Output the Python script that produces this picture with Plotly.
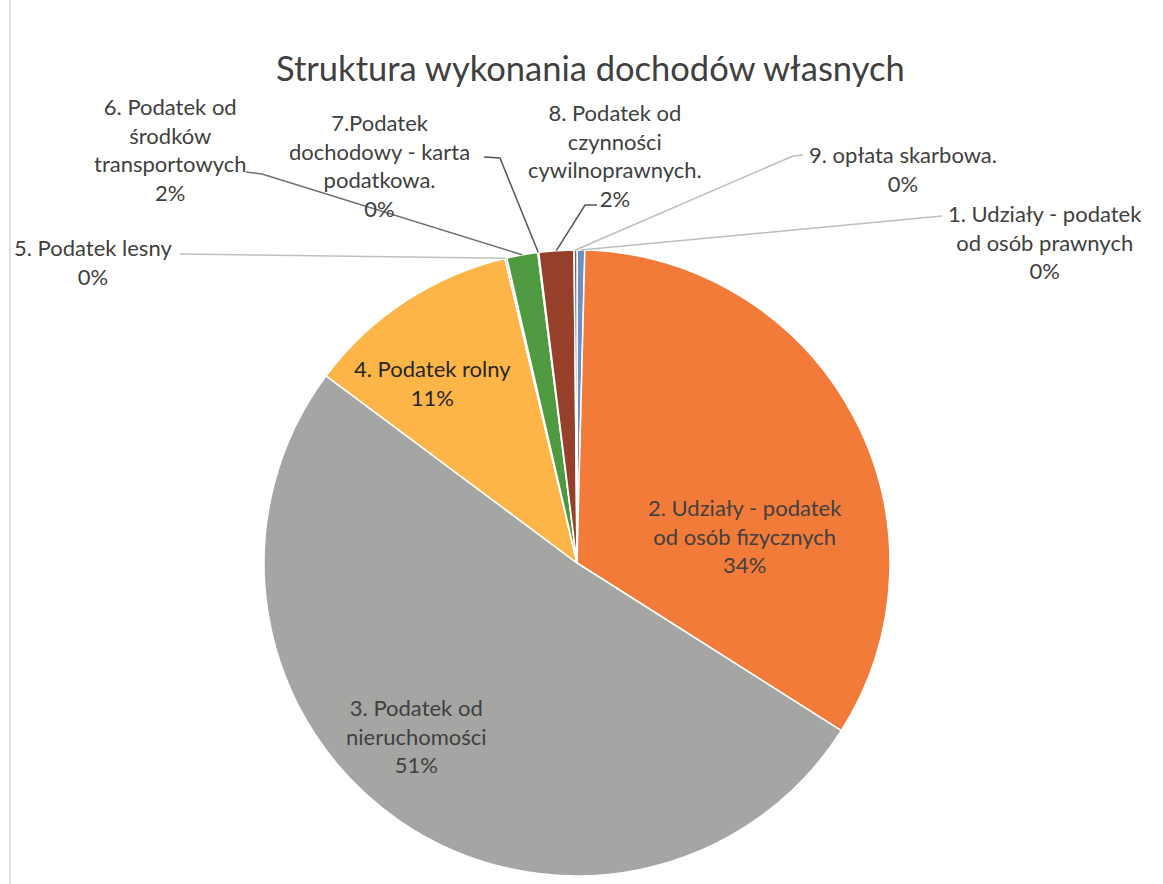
import plotly.graph_objects as go
import math

# ---- data ----
labels = [
    "1. Udziały - podatek od osób prawnych",
    "2. Udziały - podatek od osób fizycznych",
    "3. Podatek od nieruchomości",
    "4. Podatek rolny",
    "5. Podatek lesny",
    "6. Podatek od środków transportowych",
    "7.Podatek dochodowy - karta podatkowa.",
    "8. Podatek od czynności cywilnoprawnych.",
    "9. opłata skarbowa.",
]
shares = [0.4, 33.6, 51.2, 11.1, 0.1, 1.6, 0.05, 1.8, 0.15]
label_lines = [
    ["1. Udziały - podatek", "od osób prawnych"],
    ["2. Udziały - podatek", "od osób fizycznych"],
    ["3. Podatek od", "nieruchomości"],
    ["4. Podatek rolny"],
    ["5. Podatek lesny"],
    ["6. Podatek od", "środków", "transportowych"],
    ["7.Podatek", "dochodowy - karta", "podatkowa."],
    ["8. Podatek od", "czynności", "cywilnoprawnych."],
    ["9. opłata skarbowa."],
]
colors = ["#6f8fc4", "#f37b3a", "#a5a5a3", "#fdb547", "#7aa6d6",
          "#4f9a40", "#2f4a78", "#963f2b", "#6a6a6a"]
title = "Struktura wykonania dochodów własnych"

W, H = 1163, 884
CX, CY, R = 577, 563, 313
FONT = "Lato"
TXT = "#404040"

def px(x):
    return x / W

def py(y):
    return 1 - y / H

total = sum(shares)
pct = [round(100 * s / total) for s in shares]
texts = ["<br>".join(label_lines[i] + [f"{pct[i]}%"]) for i in range(len(shares))]

fig = go.Figure()
fig.add_trace(go.Pie(
    labels=labels, values=shares, sort=False, direction="clockwise", rotation=0,
    marker=dict(colors=colors, line=dict(color="white", width=1.5)),
    textinfo="none", hoverinfo="label+percent", showlegend=False,
    domain=dict(x=[px(CX - R), px(CX + R)], y=[py(CY + R), py(CY - R)]),
))

# slice edge points (from data)
cum = 0
edge = []
for s in shares:
    mid = (cum + s / 2) / total * 2 * math.pi
    edge.append((CX + R * math.sin(mid), CY - R * math.cos(mid)))
    cum += s

# label placement (pixel centres) and leader-line start points
label_pos = {
    0: (1045, 242), 1: (745, 536), 2: (416, 736), 3: (432, 383), 4: (93, 262),
    5: (170, 149), 6: (379, 165), 7: (615, 155), 8: (903, 169),
}
leader_start = {
    0: [(942, 216)],
    4: [(180, 254)],
    5: [(246, 172), (262, 174)],
    6: [(484, 157), (500, 158)],
    7: [(597, 205), (585, 205)],
    8: [(803, 155), (793, 156)],
}
line_col = {0: "#bdbdbd", 4: "#c0c0c0", 5: "#6e6e6e", 6: "#555555", 7: "#555555", 8: "#bdbdbd"}

annotations = []
for i, (x, y) in label_pos.items():
    annotations.append(dict(
        x=px(x), y=py(y), xref="paper", yref="paper", text=texts[i], showarrow=False,
        font=dict(family=FONT, size=22, color="#262626" if i == 3 else TXT),
        align="center", xanchor="center", yanchor="middle",
    ))
annotations.append(dict(
    x=px(591), y=py(68), xref="paper", yref="paper", text=title, showarrow=False,
    font=dict(family=FONT, size=34.5, color="#404040"), xanchor="center", yanchor="middle",
))

shapes = []
for i, pts in leader_start.items():
    allpts = pts + [edge[i]]
    path = "M " + " L ".join(f"{px(a):.5f},{py(b):.5f}" for a, b in allpts)
    shapes.append(dict(type="path", path=path, xref="paper", yref="paper",
                       line=dict(color=line_col[i], width=1.5)))
# chart border (left edge)
shapes.append(dict(type="line", x0=px(10), x1=px(10), y0=0, y1=1, xref="paper", yref="paper",
                   line=dict(color="#d9d9d9", width=1.5)))

fig.update_layout(
    width=W, height=H, margin=dict(l=0, r=0, t=0, b=0),
    paper_bgcolor="white", plot_bgcolor="white",
    annotations=annotations, shapes=shapes,
)
fig.write_html("out.html")
